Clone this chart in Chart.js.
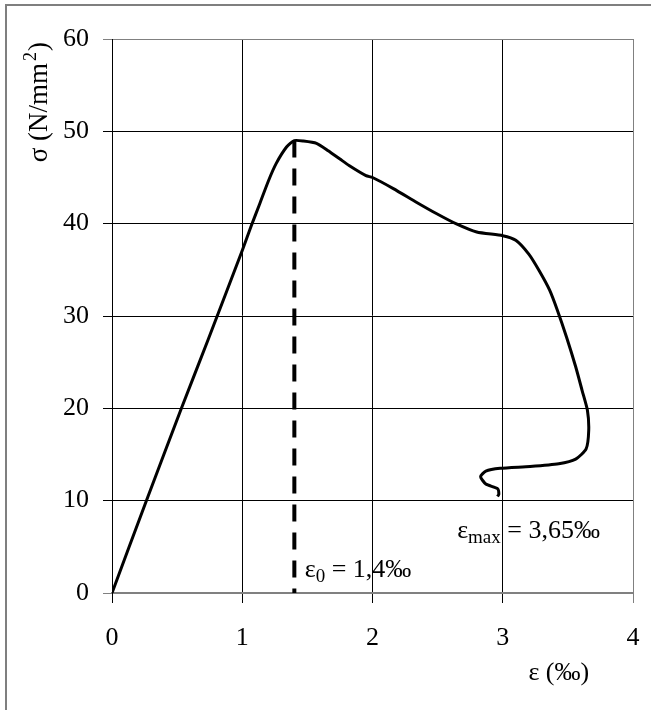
<!DOCTYPE html>
<html lang="en">

<head>
    <meta charset="UTF-8">
    <title>Stress-strain</title>
    <script src="https://cdn.jsdelivr.net/npm/chart.js@4.4.0/dist/chart.umd.min.js"></script>
    <style>
        body { margin: 0; background: #fff; }
    </style>
</head>

<body>
    <canvas id="myChart" width="651" height="710"></canvas>
    <script>

        // measured curve, strain in per mille, stress in N/mm2
        const strain = [0, 0.264, 0.533, 0.737, 1.0, 1.07, 1.13, 1.20, 1.26, 1.34, 1.40, 1.47, 1.57, 1.66, 1.75, 1.82,
            1.95, 2.00, 2.16, 2.34, 2.49, 2.64, 2.80, 3.00, 3.10, 3.20, 3.28, 3.36, 3.42, 3.49, 3.56, 3.61,
            3.65, 3.66, 3.64, 3.56, 3.43, 3.21, 2.98, 2.87, 2.83, 2.87, 2.96, 2.97, 2.96];
        const stress = [0, 10, 20, 27.4, 37.1, 39.8, 42.0, 44.6, 46.5, 48.3, 49.0, 48.95, 48.7, 47.9, 47.0, 46.3,
            45.2, 45.0, 43.8, 42.3, 41.1, 40.0, 39.1, 38.7, 38.2, 36.7, 34.9, 32.8, 30.6, 27.7, 24.5, 21.9,
            19.8, 17.6, 15.6, 14.5, 14.0, 13.7, 13.5, 13.2, 12.6, 11.8, 11.3, 10.7, 10.45];

        // dashed marker at the peak strain
        const peakStrain = [1.4, 1.4];
        const peakStress = [49, 0];

        const xTicks = [0, 1, 2, 3, 4];
        const yTicks = [0, 10, 20, 30, 40, 50, 60];

        const serif = '"Liberation Serif", "Times New Roman", serif';

        function toPoints(xs, ys) {
            return xs.map(function (x, i) { return { x: x, y: ys[i] }; });
        }

        function subText(ctx, x, y, main, sub, rest) {
            ctx.font = '26px ' + serif;
            ctx.fillText(main, x, y);
            x += ctx.measureText(main).width;
            ctx.font = '19px ' + serif;
            ctx.fillText(sub, x, y + 5);
            x += ctx.measureText(sub).width;
            ctx.font = '26px ' + serif;
            ctx.fillText(rest, x, y);
        }

        // y title with a real superscript, written bottom to top
        function yTitle(ctx, x, top) {
            ctx.font = '27px ' + serif;
            const a = 'σ (N/mm', b = ')';
            const wa = ctx.measureText(a).width, wb = ctx.measureText(b).width;
            ctx.font = '18px ' + serif;
            const ws = ctx.measureText('2').width;
            ctx.save();
            ctx.translate(x, top + wa + ws + wb + 3);
            ctx.rotate(-Math.PI / 2);
            ctx.textBaseline = 'alphabetic';
            ctx.textAlign = 'left';
            ctx.font = '27px ' + serif;
            ctx.fillText(a, 0, 9);
            ctx.font = '18px ' + serif;
            ctx.fillText('2', wa + 2, -2);
            ctx.font = '27px ' + serif;
            ctx.fillText(b, wa + ws + 3, 9);
            ctx.restore();
        }

        const notes = {
            id: 'notes',
            beforeDraw: function (chart) {
                const c = chart.ctx;
                c.save();
                c.strokeStyle = '#7f7f7f';
                c.lineWidth = 2;
                c.beginPath();
                c.moveTo(6, 720);
                c.lineTo(6, 5);
                c.lineTo(700, 5);
                c.stroke();
                c.restore();
            },
            afterDraw: function (chart) {
                const c = chart.ctx;
                const xs = chart.scales.x;
                const ys = chart.scales.y;
                c.save();
                c.fillStyle = '#000';
                c.textBaseline = 'alphabetic';
                c.textAlign = 'left';
                subText(c, xs.getPixelForValue(1.48), ys.getPixelForValue(1.75), 'ε', '0', ' = 1,4‰');
                subText(c, xs.getPixelForValue(2.65), ys.getPixelForValue(5.95), 'ε', 'max', ' = 3,65‰');
                yTitle(c, 38, ys.top + 3);
                // axis title, sits right of centre under the last ticks
                c.font = '26px ' + serif;
                c.textAlign = 'center';
                c.textBaseline = 'middle';
                c.fillText('ε (‰)', xs.getPixelForValue(3.43), xs.bottom - 37);
                c.restore();
            }
        };

        const ctx = document.getElementById('myChart').getContext('2d');

        const myChart = new Chart(ctx, {
            type: 'scatter',
            data: {
                datasets: [{
                    data: toPoints(strain, stress),
                    showLine: true,
                    borderColor: '#000',
                    borderWidth: 3,
                    pointRadius: 0,
                    tension: 0.2
                }, {
                    data: toPoints(peakStrain, peakStress),
                    showLine: true,
                    borderColor: '#000',
                    borderWidth: 4,
                    borderDash: [17, 11],
                    pointRadius: 0
                }]
            },
            options: {
                responsive: false,
                animation: false,
                layout: { autoPadding: false, padding: { left: 0, top: 39, right: 18, bottom: 0 } },
                plugins: { legend: { display: false }, tooltip: { enabled: false } },
                scales: {
                    x: {
                        type: 'linear',
                        min: 0,
                        max: 4,
                        afterBuildTicks: function (scale) {
                            scale.ticks = xTicks.map(function (v) { return { value: v }; });
                        },
                        afterFit: function (scale) {
                            scale.height = 117;
                            scale.paddingLeft = 0;
                            scale.paddingRight = 0;
                        },
                        grid: {
                            color: function (c) { return c.tick && c.tick.value === 4 ? '#808080' : '#000'; },
                            lineWidth: 1,
                            tickLength: 10
                        },
                        border: { color: '#808080', width: 2 },
                        ticks: {
                            color: '#000',
                            padding: 20,
                            font: { family: serif, size: 26 }
                        }
                    },
                    y: {
                        min: 0,
                        max: 60,
                        afterBuildTicks: function (scale) {
                            scale.ticks = yTicks.map(function (v) { return { value: v }; });
                        },
                        afterFit: function (scale) {
                            scale.width = 112;
                            scale.paddingTop = 0;
                            scale.paddingBottom = 0;
                        },
                        grid: {
                            color: function (c) {
                                return c.tick && (c.tick.value === 60 || c.tick.value === 0) ? '#808080' : '#000';
                            },
                            lineWidth: 1,
                            tickLength: 9
                        },
                        border: { color: '#000', width: 1 },
                        ticks: {
                            color: '#000',
                            padding: 14,
                            font: { family: serif, size: 26 }
                        }
                    }
                }
            },
            plugins: [notes]
        });

    </script>
</body>

</html>
